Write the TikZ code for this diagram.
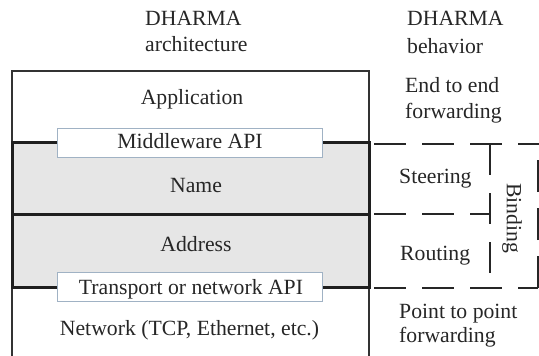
\documentclass[tikz,border=0pt]{standalone}
\usepackage{fontspec}
\setmainfont{LiberationSerif}[Extension=.ttf, UprightFont=*-Regular, BoldFont=*-Bold, ItalicFont=*-Italic, BoldItalicFont=*-BoldItalic]
\definecolor{shadefill}{RGB}{230,230,230}
\definecolor{apiborder}{RGB}{160,178,196}
\begin{document}
\begin{tikzpicture}[x=1pt,y=-1pt,
  txt/.style={inner sep=0pt, text=black!85, font=\rmfamily\fontsize{21.7}{26}\selectfont},
  thinln/.style={line width=1.6pt, draw=black!80},
  thickln/.style={line width=3pt, draw=black!88},
  apibox/.style={draw=apiborder, line width=1pt, fill=white, minimum width=265pt, minimum height=29pt, inner sep=0pt},
  dashln/.style={line width=2pt, draw=black!85, dash pattern=on 32pt off 16pt}
]
\useasboundingbox (0,0) rectangle (539,356);
% shaded area
\fill[shadefill] (12,142) rectangle (369,287);
% outer box
\draw[thinln] (12,356) -- (12,71) -- (369,71) -- (369,356);
% thick region
\draw[thickln] (12,142) rectangle (369,287);
\draw[thickln] (12,214) -- (369,214);
% api boxes
\node[apibox] (mw) at (189.5,142.5) {};
\node[apibox] (tr) at (189.5,287) {};
% labels left
\node[txt, anchor=base west] (h1) at (145,26) {DHARMA};
\node[txt, anchor=base west] (h2) at (145,52) {architecture};
\node[txt, anchor=base] (app) at (192,104) {Application};
\node[txt, anchor=base] (mwt) at (190,148) {Middleware API};
\node[txt, anchor=base] (name) at (196,192) {Name};
\node[txt, anchor=base] (addr) at (196,251) {Address};
\node[txt, anchor=base] (trt) at (191,294) {Transport or network API};
\node[txt, anchor=base] (net) at (189.5,335) {Network (TCP, Ethernet, etc.)};
% labels right
\node[txt, anchor=base west] (b1) at (407,26) {DHARMA};
\node[txt, anchor=base west] (b2) at (407,53) {behavior};
\node[txt, anchor=base west] (e1) at (405,92) {End to end};
\node[txt, anchor=base west] (e2) at (405,118) {forwarding};
\node[txt, anchor=base west] (st) at (399,183) {Steering};
\node[txt, anchor=base west] (ro) at (400,260) {Routing};
\node[txt, anchor=base west] (p1) at (399,318) {Point to point};
\node[txt, anchor=base west] (p2) at (399,342) {forwarding};
\node[txt, rotate=-90] (bind) at (512,218) {Binding};
% dashed lines
\coordinate (t0) at (370,144);
\coordinate (t1) at (539,144);
\coordinate (m0) at (370,214);
\coordinate (m1) at (490,214);
\coordinate (v0) at (490,144);
\coordinate (v1) at (490,288);
\coordinate (b0) at (370,288);
\coordinate (b1c) at (538,288);
\coordinate (r1) at (538,144);
\draw[dashln, dash phase=44pt] (t0) -- (t1);
\draw[dashln, dash phase=44pt] (m0) -- (m1);
\draw[dashln, dash phase=44pt] (b0) -- (b1c);
\draw[dashln, dash pattern=on 31pt off 18pt] (v0) -- (v1);
\draw[dashln] (b1c) -- (r1);
\end{tikzpicture}
\end{document}
